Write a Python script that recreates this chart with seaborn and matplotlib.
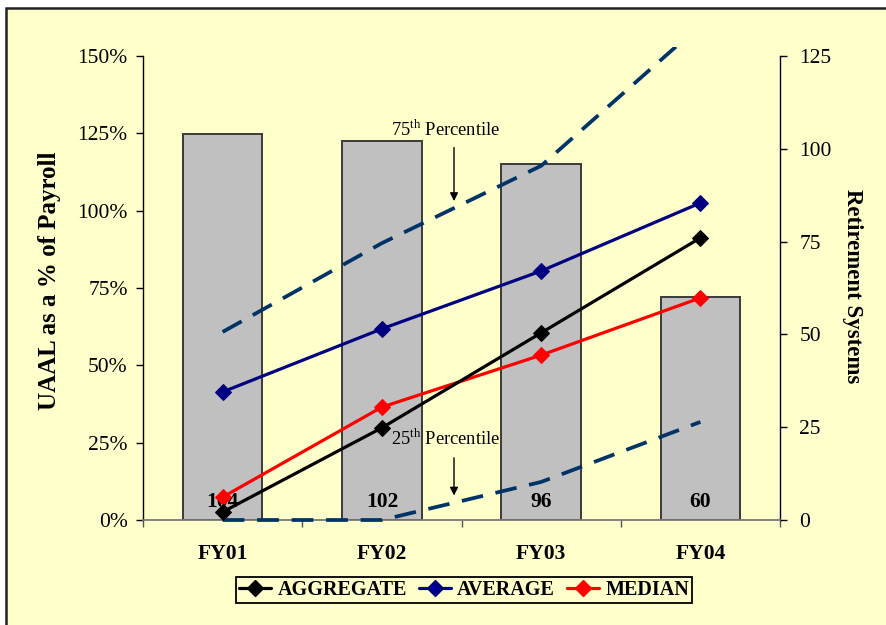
import numpy as np
import pandas as pd
import matplotlib
matplotlib.use("Agg")
import matplotlib.pyplot as plt
import seaborn as sns
from matplotlib.lines import Line2D
from matplotlib.patches import Rectangle
from matplotlib.transforms import Bbox, TransformedBbox

# Data
categories = ["FY01", "FY02", "FY03", "FY04"]
systems = [104, 102, 96, 60]                 # number of retirement systems (right axis)
aggregate = [2.6, 29.8, 60.5, 91.2]          # UAAL as % of payroll
average = [41.4, 61.8, 80.5, 102.5]
median = [7.4, 36.5, 53.3, 71.8]
pct75 = [60.8, 89.5, 114.5, 160.0]
pct25 = [0.0, 0.0, 12.3, 31.7]
left_ticks = [0, 25, 50, 75, 100, 125, 150]
right_ticks = [0, 25, 50, 75, 100, 125]

BG = "#FFFFCC"
SERIF = "Liberation Serif"

sns.set_theme(style="white")
plt.rcParams["font.family"] = [SERIF, "DejaVu Serif"]
plt.rcParams["mathtext.fontset"] = "custom"
plt.rcParams["mathtext.rm"] = SERIF
plt.rcParams["text.color"] = "black"
plt.rcParams["axes.labelcolor"] = "black"
plt.rcParams["xtick.color"] = "black"
plt.rcParams["ytick.color"] = "black"

fig = plt.figure(figsize=(8.86, 6.25), dpi=100, facecolor="white")
# framed chart area
fig.patches.append(Rectangle((6 / 886, -0.01), 1.0, 1 - 8 / 625 + 0.01,
                             transform=fig.transFigure, facecolor=BG,
                             edgecolor="#222222", linewidth=1.8, zorder=-10))

ax2 = fig.add_axes([143 / 886, 1 - 520 / 625, (780 - 143) / 886, (520 - 56) / 625])
ax = ax2.twinx()
ax.set_zorder(ax2.get_zorder() + 1)
ax.patch.set_visible(False)
ax2.set_facecolor(BG)

x = np.arange(len(categories))
df_bar = pd.DataFrame({"x": x, "n": systems})
sns.barplot(data=df_bar, x="x", y="n", ax=ax2, color="#C0C0C0", width=0.5,
            edgecolor="#3a3a3a", linewidth=1.4, saturation=1, native_scale=True)
ax2.set_xlim(-0.5, len(categories) - 0.5)
ax2.set_ylim(0, 125)

# counts written inside the bars
for xi, n in zip(x, systems):
    ax2.text(xi, 0.039, f"{n}", transform=ax2.get_xaxis_transform(),
             ha="center", va="center", fontsize=15.5, fontweight="bold", color="black")

df = pd.DataFrame({"x": x, "agg": aggregate, "avg": average, "med": median,
                   "p75": pct75, "p25": pct25})

dash = (0, (5.8, 3.4))
sns.lineplot(data=df, x="x", y="p75", ax=ax, color="#003366", lw=2.7,
             linestyle=dash, sort=False)
sns.lineplot(data=df, x="x", y="p25", ax=ax, color="#003366", lw=2.7,
             linestyle=dash, sort=False)
series = [("agg", "AGGREGATE", "black"), ("avg", "AVERAGE", "#000080"),
          ("med", "MEDIAN", "#FF0000")]
for col, lab, c in series[::-1]:
    sns.lineplot(data=df, x="x", y=col, ax=ax, color=c, lw=2.3, marker="D",
                 markersize=8.5, markeredgecolor=c, sort=False)

ax.set_ylim(0, 150)
ax.set_xlim(-0.5, len(categories) - 0.5)
# let the lines run a little past the top and bottom of the plot area
clip = TransformedBbox(Bbox([[0, -0.02], [1, 1.02]]), ax.transAxes)
for ln in ax.lines:
    ln.set_clip_box(clip)
    ln.set_zorder(3)

# percentile callouts
ax.text(1.40, 126, r"75$^{\mathrm{th}}$ Percentile", ha="center", va="center", fontsize=13.3)
ax.annotate("", xy=(1.453, 102.2), xytext=(1.453, 121.3),
            arrowprops=dict(arrowstyle="-|>", color="black", lw=1, mutation_scale=12))
ax.text(1.40, 26.2, r"25$^{\mathrm{th}}$ Percentile", ha="center", va="center", fontsize=13.3)
ax.annotate("", xy=(1.453, 7.0), xytext=(1.453, 21.0),
            arrowprops=dict(arrowstyle="-|>", color="black", lw=1, mutation_scale=12))

# percentage scale on the left, count scale on the right
ax.yaxis.set_label_position("left")
ax.yaxis.tick_left()
ax2.yaxis.set_label_position("right")
ax2.yaxis.tick_right()

ax.set_yticks(left_ticks)
ax.set_yticklabels([f"{t}%" for t in left_ticks])
ax2.set_yticks(right_ticks)
ax2.set_yticklabels([str(t) for t in right_ticks])
ax.tick_params(axis="y", which="major", direction="out", length=5, width=1,
               pad=6, labelsize=15.5, colors="black", left=True, right=False)
ax2.tick_params(axis="y", which="major", direction="out", length=5, width=1,
                pad=9, labelsize=15.5, colors="black", right=True, left=False)

ax2.set_xticks(x)
ax2.set_xticklabels(categories, fontweight="bold", fontsize=15.5)
ax2.set_xticks(np.arange(-0.5, len(categories)), minor=True)
ax2.tick_params(axis="x", which="major", length=0, pad=17, colors="black")
ax2.tick_params(axis="x", which="minor", direction="out", length=5, width=1,
                color="#555555", bottom=True)
ax.tick_params(axis="x", which="both", bottom=False, top=False, labelbottom=False)
ax2.set_xlabel("")
ax2.set_ylabel("")
ax.set_xlabel("")

for a in (ax, ax2):
    a.spines["top"].set_visible(False)
    a.grid(False)
ax.spines["left"].set_color("black")
ax.spines["left"].set_linewidth(1)
ax.spines["right"].set_color("black")
ax.spines["right"].set_linewidth(1)
ax.spines["bottom"].set_color("#777777")
ax.spines["bottom"].set_linewidth(1.3)
for s in ("left", "right", "bottom"):
    ax2.spines[s].set_visible(False)

ax.set_ylabel("UAAL as a % of Payroll", fontsize=18, fontweight="bold", color="black")
ax.yaxis.set_label_coords(-0.128, 0.515)
ax2.set_ylabel("Retirement Systems", fontsize=16.5, fontweight="bold", rotation=270,
               va="bottom", color="black")
ax2.yaxis.set_label_coords(1.097, 0.505)

handles = [Line2D([], [], color=c, lw=2.3, marker="D", markersize=8,
                  markeredgecolor=c) for _, _, c in series]
labels = [lab for _, lab, _ in series]
leg = fig.legend(handles, labels, loc="center", bbox_to_anchor=(0.524, 0.056), ncol=3,
                 frameon=True, fancybox=False, edgecolor="black", facecolor=BG,
                 framealpha=1, handlelength=1.6, handletextpad=0.3, columnspacing=0.6,
                 borderpad=0.15, prop={"family": SERIF, "weight": "bold", "size": 14.5})
leg.get_frame().set_linewidth(1.3)

fig.savefig("out.png", dpi=100, facecolor="white")
